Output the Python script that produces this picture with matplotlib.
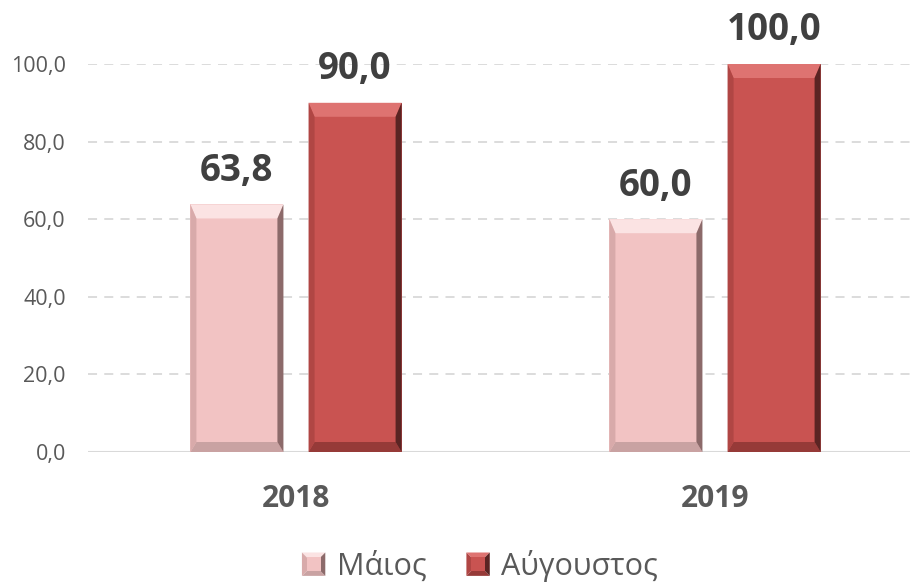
import numpy as np
import matplotlib
matplotlib.use('Agg')
import matplotlib.pyplot as plt
from matplotlib.patches import Polygon, Rectangle
from matplotlib.legend_handler import HandlerBase

plt.rcParams['font.family'] = ['Open Sans', 'DejaVu Sans']

# Data
years = ['2018', '2019']
series = ['Μάιος', 'Αύγουστος']
may = [63.8, 60.0]
august = [90.0, 100.0]
yticks = [0, 20, 40, 60, 80, 100]

# Styles: face, top, left, right, bottom
pal = {
    'Μάιος': dict(face='#F2C3C3', top='#FBE3E3', left='#D8AAAA', right='#8C6A6A', bottom='#C9A2A2'),
    'Αύγουστος': dict(face='#C95351', top='#DE7371', left='#B04644', right='#5A2423', bottom='#963A38'),
}

W, H, DPI = 9.1, 5.87, 100
fig = plt.figure(figsize=(W, H), dpi=DPI)
ax = fig.add_axes([88 / 910, 135 / 587, 822 / 910, 388 / 587])
xlo, xhi = -0.4964, 1.4654
ax.set_xlim(xlo, xhi)
ax.set_ylim(0, 100)

ax_w_px = 822
ax_h_px = 388
dx = (xhi - xlo) / ax_w_px   # data per pixel (x)
dy = 100 / ax_h_px           # data per pixel (y)


def bevel_bar(ax, xc, w, h, c):
    x0, x1 = xc - w / 2, xc + w / 2
    sb = 6 * dx
    tb = min(14 * dy, h / 3)
    bb = min(10 * dy, h / 3)
    ax.add_patch(Rectangle((x0, 0), w, h, facecolor=c['face'], edgecolor='none', zorder=3))
    # top
    ax.add_patch(Polygon([(x0, h), (x1, h), (x1 - sb, h - tb), (x0 + sb, h - tb)],
                         closed=True, facecolor=c['top'], edgecolor='none', zorder=4))
    # bottom
    ax.add_patch(Polygon([(x0, 0), (x1, 0), (x1 - sb, bb), (x0 + sb, bb)],
                         closed=True, facecolor=c['bottom'], edgecolor='none', zorder=4))
    # left
    ax.add_patch(Polygon([(x0, 0), (x0, h), (x0 + sb, h - tb), (x0 + sb, bb)],
                         closed=True, facecolor=c['left'], edgecolor='none', zorder=4))
    # right
    ax.add_patch(Polygon([(x1, 0), (x1, h), (x1 - sb, h - tb), (x1 - sb, bb)],
                         closed=True, facecolor=c['right'], edgecolor='none', zorder=4))


class BevelHandler(HandlerBase):
    def create_artists(self, legend, orig_handle, xdescent, ydescent, width, height, fontsize, trans):
        c = pal[orig_handle.get_label()]
        s = height * 1.0
        x0 = -xdescent + (width - s) / 2
        y0 = -ydescent + (height - s) / 2
        x1, y1 = x0 + s, y0 + s
        xm, ym = x0 + s / 2, y0 + s / 2
        arts = [
            Polygon([(x0, y1), (x1, y1), (xm, ym)], facecolor=c['top'], edgecolor='none'),
            Polygon([(x0, y0), (x1, y0), (xm, ym)], facecolor=c['bottom'], edgecolor='none'),
            Polygon([(x0, y0), (x0, y1), (xm, ym)], facecolor=c['left'], edgecolor='none'),
            Polygon([(x1, y0), (x1, y1), (xm, ym)], facecolor=c['right'], edgecolor='none'),
            Rectangle((x0 + s * 0.2, y0 + s * 0.2), s * 0.6, s * 0.6, facecolor=c['face'], edgecolor='none'),
        ]
        for a in arts:
            a.set_transform(trans)
        return arts


x = np.arange(len(years))
bw = 0.222
off = 0.141
for xi, v in zip(x - off, may):
    bevel_bar(ax, xi, bw, v, pal['Μάιος'])
for xi, v in zip(x + off, august):
    bevel_bar(ax, xi, bw, v, pal['Αύγουστος'])

for xi, v in list(zip(x - off, may)) + list(zip(x + off, august)):
    ax.annotate(f'{v:.1f}'.replace('.', ','), (xi, v), xytext=(0, 17), textcoords='offset points',
                ha='center', va='baseline', fontsize=26.5, fontweight='bold', color='#404040')

# grid
ax.set_yticks(yticks)
ax.set_yticklabels([f'{t:.1f}'.replace('.', ',') for t in yticks])
for t in yticks[1:]:
    ax.axhline(t, color='#D9D9D9', linewidth=1.3, linestyle=(0, (5, 4)), zorder=1)
ax.axhline(0, color='#D9D9D9', linewidth=1.5, zorder=2)

ax.set_xticks(x)
ax.set_xticklabels(years, fontsize=21.5, fontweight='bold', color='#595959')
ax.tick_params(axis='x', length=0, pad=23)
ax.tick_params(axis='y', length=0, pad=16, labelsize=15.5, labelcolor='#595959')
for s in ax.spines.values():
    s.set_visible(False)

handles = [Rectangle((0, 0), 1, 1, label=s) for s in series]
fig.legend(handles=handles, labels=series, handler_map={Rectangle: BevelHandler()},
           loc='lower center', bbox_to_anchor=(0.527, -0.038), ncol=2, frameon=False,
           fontsize=22, handlelength=0.8, handleheight=0.8, handletextpad=0.35,
           columnspacing=1.3, labelcolor='#595959')

fig.savefig('out.png', dpi=DPI)
